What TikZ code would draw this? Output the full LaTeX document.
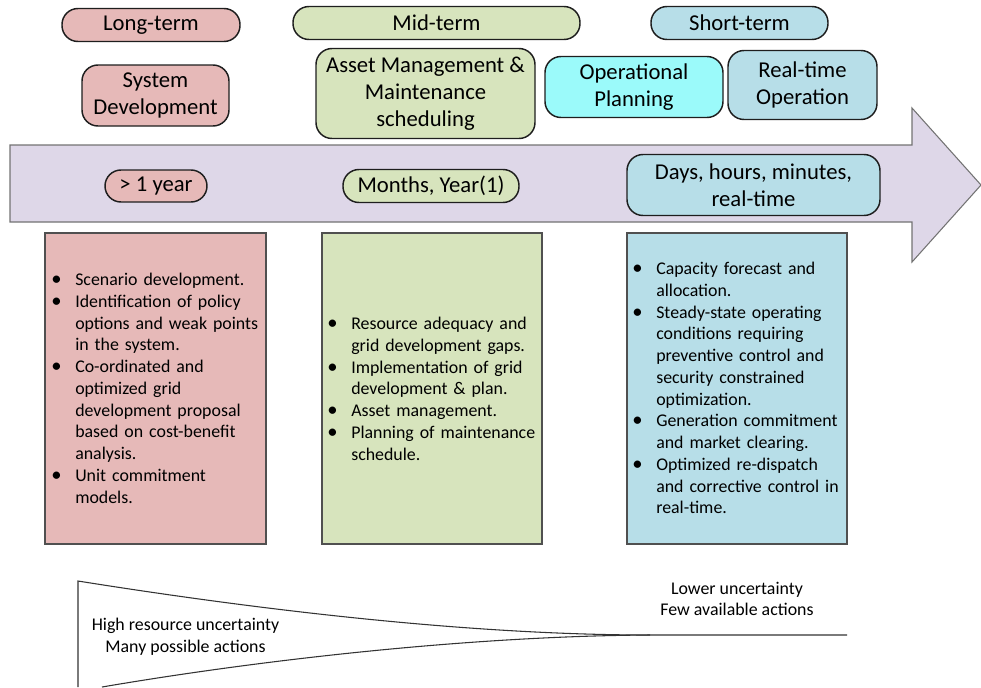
\documentclass[tikz,border=0pt]{standalone}
\usepackage{fontspec}
\setmainfont{Carlito}
\definecolor{pinkc}{RGB}{230,185,184}
\definecolor{greenc}{RGB}{215,228,189}
\definecolor{bluec}{RGB}{183,222,232}
\definecolor{cyanc}{RGB}{155,250,250}
\definecolor{lavc}{RGB}{222,215,232}
\definecolor{edgec}{RGB}{30,30,30}
\definecolor{boxedge}{RGB}{80,80,80}
% one bullet item with a hanging indent; \\ breaks a line inside the item
\newlength{\bulletgap}
\setlength{\bulletgap}{17.25pt}
\newcommand{\bitem}[1]{\par\hangindent\bulletgap\hangafter 1\relax\noindent
  \makebox[\bulletgap][l]{\hspace{-0.6pt}{\fontsize{15.5}{15.5}\selectfont •}}%
  {\def\\{\hfil\break}#1}\par}
\begin{document}
\begin{tikzpicture}[x=0.75pt,y=-0.75pt,
  size/.style 2 args={minimum width=#1*0.75pt, minimum height=#2*0.75pt},
  pill/.style={draw=edgec, line width=1.1pt, rounded corners=12pt, inner sep=0pt,
    align=center, font=\fontsize{17}{20.25}\selectfont},
  bulletbox/.style={draw=boxedge, line width=0.8pt, inner sep=0pt},
  btext/.style={anchor=base west, inner sep=0pt, text width=170pt, align=left,
    font=\fontsize{13.4}{16.3}\selectfont},
  note/.style={inner sep=0pt, align=center, font=\fontsize{13.4}{16.3}\selectfont},
  arrowline/.style={draw=black!55, line width=0.8pt, fill=lavc},
  funnel/.style={draw=black!80, line width=0.8pt}]
\useasboundingbox (0,0) rectangle (981,687);

% time axis arrow
\draw[arrowline] (10,145) -- (912,145) -- (912,108) -- (981,185) -- (912,262)
  -- (912,222) -- (10,222) -- cycle;

% horizon headers
\node[pill, fill=pinkc, size={178}{33}] (long) at (151,25) {Long-term};
\node[pill, fill=greenc, size={287}{33}] (mid) at (436.5,23) {Mid-term};
\node[pill, fill=bluec, size={177}{33}] (short) at (739.5,23) {Short-term};

% activities
\node[pill, fill=pinkc, size={147}{61}] (sysdev) at (155.5,95.5) {System\\Development};
\node[pill, fill=greenc, size={219}{90}] (asset) at (425.5,93.5) {Asset Management \&\\Maintenance\\scheduling};
\node[pill, fill=cyanc, size={178}{61}] (opplan) at (634,87) {Operational\\Planning};
\node[pill, fill=bluec, size={149}{69}] (rtop) at (802.5,85) {Real-time\\Operation};

% time scales on the arrow
\node[pill, fill=pinkc, size={102}{32}] (year) at (156,186) {> 1 year};
\node[pill, fill=greenc, size={176}{33}] (months) at (431,186) {Months, Year(1)};
\node[pill, fill=bluec, size={253}{61}] (days) at (753.5,185) {Days, hours, minutes,\\real-time};

% task lists
\node[bulletbox, fill=pinkc, size={221}{311}] (lbox) at (155.5,388.5) {};
\node[bulletbox, fill=greenc, size={220}{311}] (mbox) at (432,388.5) {};
\node[bulletbox, fill=bluec, size={220}{311}] (rbox) at (737,388.5) {};

\node[btext] (ltext) at (52,264) {%
  \bitem{Scenario development.}
  \bitem{Identification of policy\\options and weak points\\in the system.}
  \bitem{Co-ordinated and\\optimized grid\\development proposal\\based on cost-benefit\\analysis.}
  \bitem{Unit commitment\\models.}};
\node[btext] (mtext) at (328,308) {%
  \bitem{Resource adequacy and\\grid development gaps.}
  \bitem{Implementation of grid\\development \& plan.}
  \bitem{Asset management.}
  \bitem{Planning of maintenance\\schedule.}};
\node[btext] (rtext) at (633,253) {%
  \bitem{Capacity forecast and\\allocation.}
  \bitem{Steady-state operating\\conditions requiring\\preventive control and\\security constrained\\optimization.}
  \bitem{Generation commitment\\and market clearing.}
  \bitem{Optimized re-dispatch\\and corrective control in\\real-time.}};

% uncertainty funnel
\coordinate (ftop) at (78,581);
\coordinate (fleft) at (78,687);
\coordinate (flow) at (102,687);
\coordinate (fjoin) at (650,635);
\coordinate (fend) at (847,635);
\draw[funnel] (fleft) -- (ftop) .. controls (260,610) and (470,635) .. (fjoin) -- (fend);
\draw[funnel] (flow) .. controls (260,660) and (470,636) .. (fjoin);

\node[note] (high) at (185.5,637) {High resource uncertainty\\Many possible actions};
\node[note] (lowr) at (737,599) {Lower uncertainty\\Few available actions};
\end{tikzpicture}
\end{document}
